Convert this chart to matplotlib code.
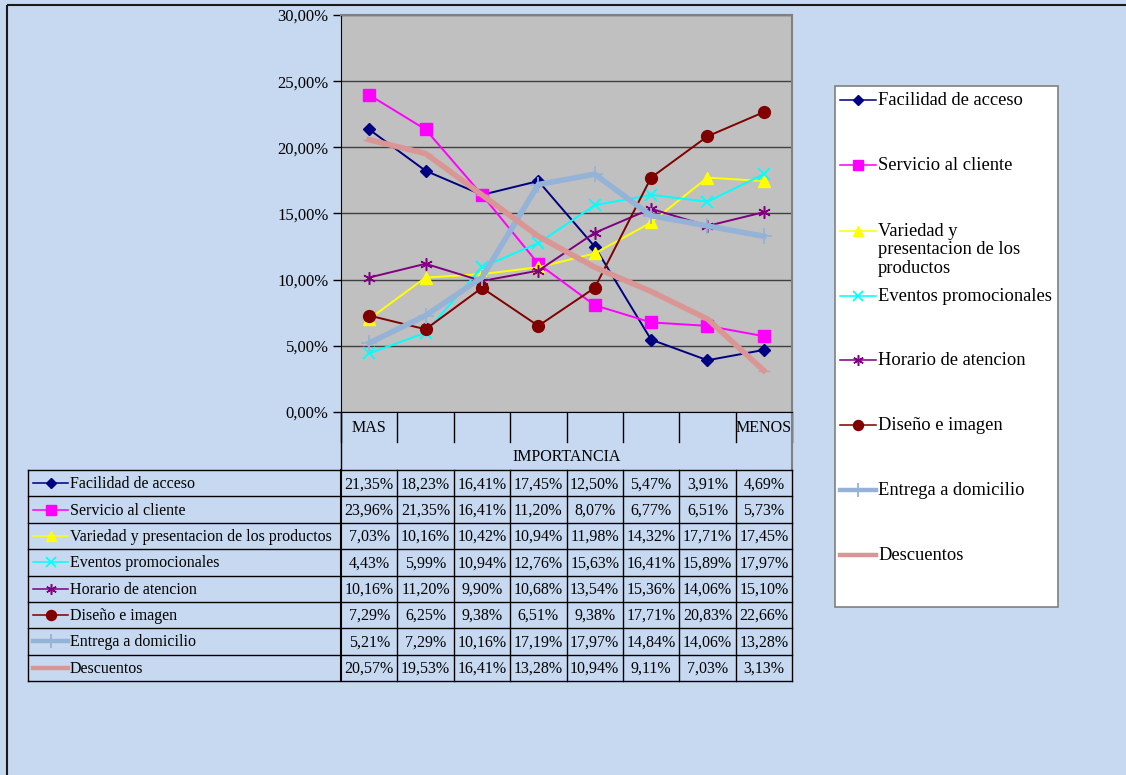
import matplotlib
matplotlib.use("Agg")
import matplotlib.pyplot as plt
from matplotlib.lines import Line2D
from matplotlib.patches import Rectangle
from matplotlib.ticker import FuncFormatter, MultipleLocator

plt.rcParams['font.family'] = ['Liberation Serif', 'DejaVu Serif']

# ---------------- data ----------------
categories = ["MAS", "", "", "", "", "", "", "MENOS"]
axis_title = "IMPORTANCIA"
series_names = [
    "Facilidad de acceso",
    "Servicio al cliente",
    "Variedad y presentacion de los productos",
    "Eventos promocionales",
    "Horario de atencion",
    "Diseño e imagen",
    "Entrega a domicilio",
    "Descuentos",
]
legend_names = [
    "Facilidad de acceso",
    "Servicio al cliente",
    "Variedad y\npresentacion de los\nproductos",
    "Eventos promocionales",
    "Horario de atencion",
    "Diseño e imagen",
    "Entrega a domicilio",
    "Descuentos",
]
facilidad = [21.35, 18.23, 16.41, 17.45, 12.50, 5.47, 3.91, 4.69]
servicio = [23.96, 21.35, 16.41, 11.20, 8.07, 6.77, 6.51, 5.73]
variedad = [7.03, 10.16, 10.42, 10.94, 11.98, 14.32, 17.71, 17.45]
eventos = [4.43, 5.99, 10.94, 12.76, 15.63, 16.41, 15.89, 17.97]
horario = [10.16, 11.20, 9.90, 10.68, 13.54, 15.36, 14.06, 15.10]
diseno = [7.29, 6.25, 9.38, 6.51, 9.38, 17.71, 20.83, 22.66]
entrega = [5.21, 7.29, 10.16, 17.19, 17.97, 14.84, 14.06, 13.28]
descuentos = [20.57, 19.53, 16.41, 13.28, 10.94, 9.11, 7.03, 3.13]
all_series = [facilidad, servicio, variedad, eventos, horario, diseno, entrega, descuentos]

# ---------------- styles ----------------
styles = [
    dict(color="#000080", lw=1.4, marker="D", ms=6.5),
    dict(color="#FF00FF", lw=1.4, marker="s", ms=8.5),
    dict(color="#FFFF00", lw=1.4, marker="^", ms=8.5),
    dict(color="#00FFFF", lw=1.4, marker="x", ms=8, mew=1.3),
    dict(color="#800080", lw=1.4, marker=(6, 2, 0), ms=9, mew=1.1),
    dict(color="#800000", lw=1.4, marker="o", ms=8.5),
    dict(color="#95B3D7", lw=4.0, marker="+", ms=12, mew=1.3),
    dict(color="#D99694", lw=4.0, marker="_", ms=8, mew=1.0),
]

W, H = 1126, 775
BG = "#C6D9F0"
fig = plt.figure(figsize=(W / 100, H / 100), dpi=100, facecolor=BG)

# overlay axes in pixel coordinates
ov = fig.add_axes([0, 0, 1, 1])
ov.set_xlim(0, W)
ov.set_ylim(H, 0)
ov.axis("off")
ov.patch.set_alpha(0)

# outer border
ov.add_patch(Rectangle((7, 5), W, H, fill=False, ec="#1a1a1a", lw=1.5))

# ---------------- main plot ----------------
PL, PR, PT, PB = 341, 792, 15, 412
ax = fig.add_axes([PL / W, 1 - PB / H, (PR - PL) / W, (PB - PT) / H])
ax.set_facecolor("#C0C0C0")
x = list(range(len(categories)))
for vals, st in zip(all_series, styles):
    ax.plot(x, [v / 100 for v in vals], color=st["color"], lw=st["lw"],
            marker=st["marker"], ms=st["ms"], mew=st.get("mew", 1.0),
            mfc=st["color"], mec=st["color"], solid_joinstyle="miter")
ax.set_xlim(-0.5, len(categories) - 0.5)
ax.set_ylim(0, 0.30)
ax.yaxis.set_major_locator(MultipleLocator(0.05))
ax.yaxis.set_major_formatter(FuncFormatter(lambda v, p: f"{v*100:.2f}%".replace(".", ",")))
ax.grid(axis="y", color="#404040", lw=1.0)
ax.set_axisbelow(True)
ax.set_xticks([])
ax.tick_params(axis="y", direction="out", length=6, width=1, labelsize=12, pad=3)
for s in ["top", "right"]:
    ax.spines[s].set_color("#808080")
    ax.spines[s].set_linewidth(1.5)
ax.spines["left"].set_color("black")
ax.spines["bottom"].set_color("black")

# ---------------- table ----------------
FS = 11.5
colw = (PR - PL) / len(categories)
col_edges = [PL + i * colw for i in range(len(categories) + 1)]
cat_top, cat_bot = PB, 442
imp_bot = 470
row_h = (681 - 470) / len(series_names)
TL = 28
lc = "#000000"
# category row lines
for xe in col_edges:
    ov.plot([xe, xe], [cat_top, cat_bot], color=lc, lw=1.0)
ov.plot([PL, PL], [cat_top, imp_bot], color=lc, lw=1.0)
ov.plot([PR, PR], [cat_top, imp_bot], color="#808080", lw=1.5)
for i, c in enumerate(categories):
    if c:
        ov.text(col_edges[i] + colw / 2, (cat_top + cat_bot) / 2 + 1, c,
                ha="center", va="center", fontsize=FS)
ov.text((PL + PR) / 2, (cat_bot + imp_bot) / 2 + 1, axis_title,
        ha="center", va="center", fontsize=FS)

# data rows
for r in range(len(series_names) + 1):
    yy = imp_bot + r * row_h
    ov.plot([TL, PR], [yy, yy], color=lc, lw=1.0)
ybot = imp_bot + len(series_names) * row_h
ov.plot([TL, TL], [imp_bot, ybot], color=lc, lw=1.0)
ov.plot([PL, PL], [imp_bot, ybot], color=lc, lw=1.5)
for xe in col_edges[1:]:
    ov.plot([xe, xe], [imp_bot, ybot], color=lc, lw=1.0)

for r, (name, vals, st) in enumerate(zip(series_names, all_series, styles)):
    yc = imp_bot + (r + 0.5) * row_h
    ov.add_line(Line2D([33, 68], [yc, yc], color=st["color"], lw=st["lw"] * 0.8))
    if st["marker"] != "_":
        ov.add_line(Line2D([50.5], [yc], color=st["color"], marker=st["marker"],
                           ms=st["ms"] * 0.85, mew=st.get("mew", 1.0),
                           mfc=st["color"], mec=st["color"], lw=0))
    ov.text(70, yc + 1, name, ha="left", va="center", fontsize=FS)
    for i, v in enumerate(vals):
        ov.text(col_edges[i] + colw / 2, yc + 1, f"{v:.2f}%".replace(".", ","),
                ha="center", va="center", fontsize=FS)

# ---------------- legend ----------------
ov.add_patch(Rectangle((835, 86), 1058 - 835, 607 - 86, fc="white", ec="#808080", lw=1.2, zorder=3))
leg_y = [100, 165, 231, 296, 360, 425, 490, 555]
LFS = 13.3
for name, st, yc in zip(legend_names, styles, leg_y):
    ov.add_line(Line2D([840, 876], [yc, yc], color=st["color"], lw=st["lw"] * 0.8, zorder=4))
    if st["marker"] != "_":
        ov.add_line(Line2D([858], [yc], color=st["color"], marker=st["marker"],
                           ms=st["ms"] * 0.85, mew=st.get("mew", 1.0),
                           mfc=st["color"], mec=st["color"], lw=0, zorder=5))
    ov.text(878, yc - 8, name, ha="left", va="top", fontsize=LFS, zorder=5,
            linespacing=1.1)

fig.savefig("out.png", dpi=100, facecolor=BG)
